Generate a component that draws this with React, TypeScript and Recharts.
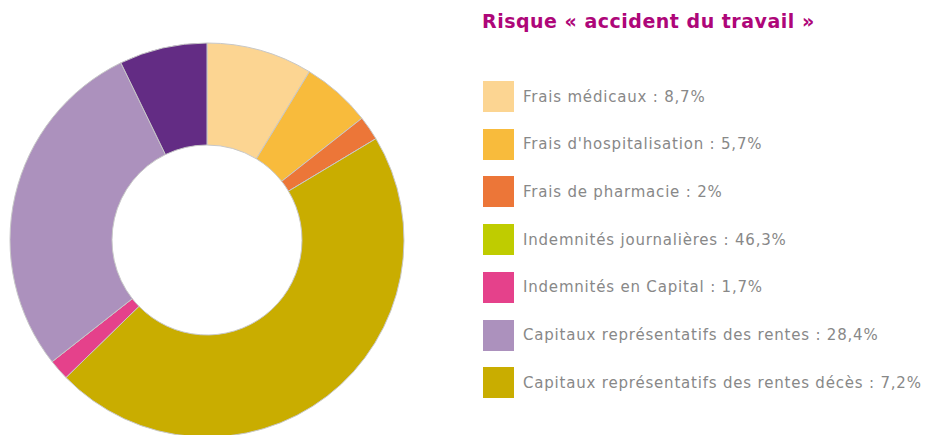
import React from 'react';
import { PieChart, Pie, Cell } from 'recharts';

const title = 'Risque « accident du travail »';

const categories = [
  'Frais médicaux',
  "Frais d'hospitalisation",
  'Frais de pharmacie',
  'Indemnités journalières',
  'Indemnités en Capital',
  'Capitaux représentatifs des rentes',
  'Capitaux représentatifs des rentes décès',
];

const values = [8.7, 5.7, 2, 46.3, 1.7, 28.4, 7.2];

// slice colours as drawn in the ring
const sliceColors = ['#fcd592', '#f8bb3c', '#ec7638', '#c9ad00', '#e5418b', '#ac91bd', '#632c84'];
// legend swatches (they differ from the slices in the original)
const legendColors = ['#fcd592', '#f8bb3c', '#ec7638', '#bfcc00', '#e5418b', '#ac91bd', '#c9ad00'];

const fmt = (v: number) => String(v).replace('.', ',') + '%';

const chartData = categories.map((name, i) => ({ name, value: values[i] }));

const FONT = '"DejaVu Sans", sans-serif';

export default function App() {
  return (
    <div style={{ position: 'absolute', left: 0, top: 0, width: 925, height: 435, overflow: 'hidden', background: '#fff' }}>
      <PieChart width={925} height={435} margin={{ top: 0, right: 0, bottom: 0, left: 0 }}>
        <Pie
          data={chartData}
          dataKey="value"
          nameKey="name"
          cx={207}
          cy={240}
          innerRadius={95}
          outerRadius={197}
          startAngle={90}
          endAngle={-270}
          stroke="#c8c8c8"
          strokeWidth={1}
          isAnimationActive={false}
        >
          {chartData.map((entry, index) => (
            <Cell key={`cell-${index}`} fill={sliceColors[index]} />
          ))}
        </Pie>
      </PieChart>
      <div
        style={{
          position: 'absolute',
          left: 482,
          top: 10,
          fontFamily: FONT,
          fontWeight: 700,
          fontSize: 19,
          letterSpacing: 0.5,
          color: '#ae0679',
          whiteSpace: 'nowrap',
        }}
      >
        {title}
      </div>
      {chartData.map((entry, i) => (
        <div
          key={`leg-${i}`}
          style={{
            position: 'absolute',
            left: 483,
            top: 81 + i * 47.7,
            height: 31,
            display: 'flex',
            alignItems: 'center',
            whiteSpace: 'nowrap',
          }}
        >
          <div style={{ width: 31, height: 31, background: legendColors[i], marginRight: 9 }} />
          <span style={{ fontFamily: FONT, fontSize: 15, letterSpacing: 0.8, color: '#888888' }}>
            {entry.name} : {fmt(entry.value)}
          </span>
        </div>
      ))}
    </div>
  );
}
